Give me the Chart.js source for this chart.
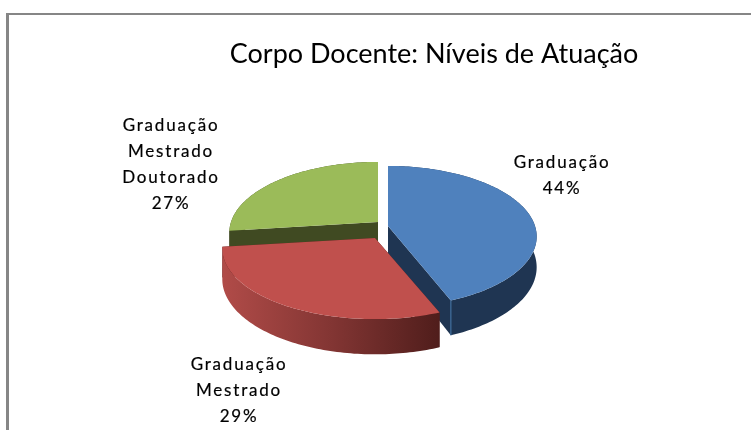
<!DOCTYPE html>
<html>
<head>
<meta charset="utf-8">
<script src="https://cdn.jsdelivr.net/npm/chart.js@4"></script>
<style>
html,body{margin:0;padding:0;background:#fff;overflow:hidden}
#wrap{position:relative;width:751px;height:430px}
#frame{position:absolute;left:6px;top:13px;right:0;bottom:0;border-left:3px solid #868686;border-top:2px solid #868686}
canvas{position:absolute;left:0;top:0}
</style>
</head>
<body>
<div id="wrap"><canvas id="c" width="751" height="430"></canvas><div id="frame"></div></div>
<script>
const chartTitle = "Corpo Docente: Níveis de Atuação";
const categories = ["Graduação", "Graduação\nMestrado", "Graduação\nMestrado\nDoutorado"];
const percentages = [44, 29, 27];
const topColors = ["#4F81BD", "#C0504D", "#9BBB59"];

// Drawing parameters of the tilted, exploded pie
const apexes = [[388, 226], [375, 238], [378, 222]];
const widths = [147, 151, 147];
const labelCentres = [[562, 176], [239, 391], [171, 165]];
const lineGap = 26;
const KY = 69, PERSP = 0.149, DEPTH = 30;

function project(i, angle, r, drop) {
  const apex = apexes[i];
  const u = Math.cos(angle) * r, v = Math.sin(angle) * r;
  const s = 1 / (1 - PERSP * v);
  return [apex[0] + widths[i] * u * s, apex[1] + KY * v * s + drop * s];
}
function arcPoints(i, a0, a1, drop) {
  const n = Math.max(2, Math.ceil((a1 - a0) / 0.02));
  const pts = [];
  for (let k = 0; k <= n; k++) pts.push(project(i, a0 + (a1 - a0) * k / n, 1, drop));
  return pts;
}
function fillPoly(ctx, pts, fill) {
  ctx.beginPath();
  pts.forEach((p, k) => k ? ctx.lineTo(p[0], p[1]) : ctx.moveTo(p[0], p[1]));
  ctx.closePath();
  ctx.fillStyle = fill; ctx.fill();
}
function drawSlice(ctx, el, i) {
  const apex = apexes[i];
  const a0 = el.startAngle, a1 = el.endAngle;
  const dark = i === 0 ? "#1F3552" : i === 1 ? "#4F1D1B" : "#404A22";
  [a0, a1].forEach(a => {
    fillPoly(ctx, [apex, project(i, a, 1, 0), project(i, a, 1, DEPTH), project(i, a, 0, DEPTH)], dark);
  });
  const top = arcPoints(i, a0, a1, 0), bot = arcPoints(i, a0, a1, DEPTH);
  let wall = dark;
  if (i === 1) {
    const g = ctx.createLinearGradient(224, 0, 441, 0);
    g.addColorStop(0, "#B04B48");
    g.addColorStop(0.5, "#823533");
    g.addColorStop(1, "#4F1D1B");
    wall = g;
  }
  fillPoly(ctx, top.concat(bot.slice().reverse()), wall);
  if (i === 0) {
    const p = project(i, a1, 1, 0), q = project(i, a1, 1, DEPTH);
    ctx.beginPath(); ctx.moveTo(p[0], p[1]); ctx.lineTo(q[0], q[1]);
    ctx.strokeStyle = "#3A6390"; ctx.lineWidth = 1.5; ctx.stroke();
  }
  fillPoly(ctx, [apex].concat(top), el.options.backgroundColor);
}
const pie3d = {
  id: "pie3d",
  beforeDatasetDraw(chart) {
    const ctx = chart.ctx, els = chart.getDatasetMeta(0).data;
    [2, 0, 1].forEach(i => drawSlice(ctx, els[i], i));
    ctx.save();
    ctx.fillStyle = "#000";
    ctx.strokeStyle = "#000";
    ctx.lineWidth = 0.2;
    ctx.font = "17px Lato";
    ctx.letterSpacing = "1.8px";
    ctx.textAlign = "center";
    ctx.textBaseline = "middle";
    categories.forEach((cat, i) => {
      const lines = cat.split("\n").concat(percentages[i] + "%");
      const y0 = labelCentres[i][1] - (lines.length - 1) * lineGap / 2;
      lines.forEach((t, j) => {
        ctx.fillText(t, labelCentres[i][0], y0 + j * lineGap);
        ctx.strokeText(t, labelCentres[i][0], y0 + j * lineGap);
      });
    });
    ctx.restore();
    return false;
  }
};
new Chart(document.getElementById("c"), {
  type: "pie",
  data: {
    labels: categories,
    datasets: [{ data: percentages, backgroundColor: topColors, borderWidth: 0 }]
  },
  options: {
    responsive: false,
    animation: false,
    layout: { padding: { left: 117, right: 0, top: 38, bottom: 0 } },
    plugins: {
      legend: { display: false },
      tooltip: { enabled: false },
      title: {
        display: true, text: chartTitle, fullSize: false,
        color: "#000", font: { family: "Lato", size: 27, weight: "normal" },
        padding: { top: 0, bottom: 0 }
      }
    }
  },
  plugins: [pie3d]
});
</script>
</body>
</html>
